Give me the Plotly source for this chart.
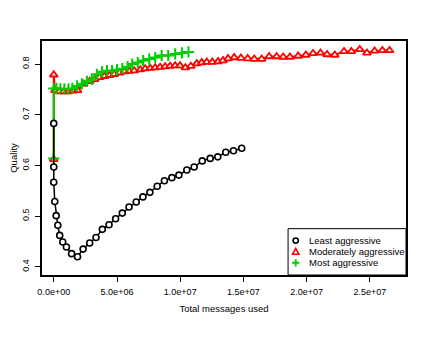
import plotly.graph_objects as go

# ---- data ----
least_x = [0, 0, 0, 0.08e6, 0.19e6, 0.32e6, 0.47e6, 0.71e6, 1.00e6, 1.41e6, 1.88e6,
           2.32e6, 2.84e6, 3.34e6, 3.84e6, 4.37e6, 4.89e6, 5.42e6, 5.95e6, 6.52e6,
           7.05e6, 7.60e6, 8.18e6, 8.75e6, 9.34e6, 9.89e6, 10.52e6, 11.10e6, 11.74e6,
           12.37e6, 12.97e6, 13.60e6, 14.21e6, 14.86e6]
least_y = [0.683, 0.597, 0.567, 0.529, 0.501, 0.482, 0.462, 0.449, 0.439, 0.426, 0.420,
           0.435, 0.447, 0.458, 0.474, 0.483, 0.495, 0.506, 0.518, 0.528,
           0.538, 0.547, 0.559, 0.570, 0.576, 0.581, 0.591, 0.597, 0.609,
           0.614, 0.617, 0.626, 0.629, 0.634]

mod_x = [0, 0, 0.09e6, 0.45e6, 0.80e6, 1.16e6, 1.51e6, 1.89e6, 2.37e6, 2.84e6, 3.23e6,
         3.63e6, 4.02e6, 4.42e6, 4.79e6, 5.21e6, 5.60e6, 5.97e6, 6.36e6, 6.84e6, 7.23e6,
         7.63e6, 8.02e6, 8.41e6, 8.81e6, 9.20e6, 9.60e6, 9.99e6, 10.41e6, 10.84e6,
         11.31e6, 11.70e6, 12.10e6, 12.54e6, 12.99e6, 13.38e6, 13.78e6, 14.27e6, 14.80e6,
         15.33e6, 15.85e6, 16.44e6, 17.03e6, 17.62e6, 18.14e6, 18.67e6, 19.32e6, 19.93e6,
         20.50e6, 21.09e6, 21.61e6, 22.22e6, 22.95e6, 23.53e6, 24.19e6, 24.76e6, 25.37e6,
         25.98e6, 26.55e6]
mod_y = [0.612, 0.779, 0.748, 0.746, 0.746, 0.746, 0.747, 0.748, 0.761, 0.766, 0.770,
         0.774, 0.776, 0.778, 0.780, 0.783, 0.785, 0.786, 0.787, 0.789, 0.791,
         0.792, 0.793, 0.794, 0.795, 0.796, 0.797, 0.797, 0.793, 0.796,
         0.801, 0.803, 0.804, 0.804, 0.805, 0.807, 0.811, 0.813, 0.812,
         0.811, 0.810, 0.810, 0.815, 0.815, 0.814, 0.814, 0.816, 0.818,
         0.821, 0.822, 0.819, 0.818, 0.825, 0.825, 0.829, 0.822, 0.826,
         0.827, 0.827]

most_x = [0, 0, 0.21e6, 0.53e6, 0.84e6, 1.16e6, 1.47e6, 1.85e6, 2.22e6, 2.62e6, 3.01e6,
          3.41e6, 3.82e6, 4.21e6, 4.61e6, 5.00e6, 5.42e6, 5.84e6, 6.21e6, 6.64e6, 7.07e6,
          7.55e6, 8.02e6, 8.53e6, 9.05e6, 9.60e6, 10.13e6, 10.65e6]
most_y = [0.614, 0.752, 0.752, 0.751, 0.751, 0.751, 0.752, 0.757, 0.761, 0.766, 0.770,
          0.780, 0.785, 0.787, 0.787, 0.789, 0.791, 0.795, 0.800, 0.803, 0.807,
          0.810, 0.813, 0.817, 0.817, 0.820, 0.822, 0.824]

series_names = ["Least aggressive", "Moderately aggressive", "Most aggressive"]
x_ticks = [0, 5e6, 1e7, 1.5e7, 2e7, 2.5e7]
x_tick_labels = ["0.0e+00", "5.0e+06", "1.0e+07", "1.5e+07", "2.0e+07", "2.5e+07"]
y_ticks = [0.4, 0.5, 0.6, 0.7, 0.8]
y_tick_labels = ["0.4", "0.5", "0.6", "0.7", "0.8"]

FONT = "Liberation Sans, Arial, Helvetica, sans-serif"
BLACK, RED, GREEN = "#000000", "#FF0000", "#00CD00"

fig = go.Figure()

# data traces (red, green drawn first; black on top)
fig.add_trace(go.Scatter(
    x=mod_x, y=mod_y, mode="lines+markers", name=series_names[1], showlegend=False,
    line=dict(color=RED, width=2),
    marker=dict(symbol="triangle-up", size=7, color="white",
                line=dict(color=RED, width=1.8))))
fig.add_trace(go.Scatter(
    x=most_x, y=most_y, mode="lines+markers", name=series_names[2], showlegend=False,
    line=dict(color=GREEN, width=2),
    marker=dict(symbol="cross-thin-open", size=8, color=GREEN,
                line=dict(color=GREEN, width=2))))
fig.add_trace(go.Scatter(
    x=least_x, y=least_y, mode="lines+markers", name=series_names[0], showlegend=False,
    line=dict(color=BLACK, width=1.5),
    marker=dict(symbol="circle", size=6, color="white",
                line=dict(color=BLACK, width=1.6))))

axis_common = dict(
    showgrid=False, zeroline=False, showline=True, mirror=True,
    linecolor="black", linewidth=1.5, ticks="outside", ticklen=5,
    tickcolor="black", tickwidth=1, tickfont=dict(family=FONT, size=9, color="black"),
)

# ---- legend box drawn in the bottom-right corner of the plot area ----
leg_left, leg_top = 0.676, 0.198
sym_x, text_x = 0.697, 0.727
row_y = [0.147, 0.099, 0.052]
shapes = [dict(type="rect", xref="x domain", yref="y domain",
               x0=leg_left, x1=1, y0=0, y1=leg_top,
               line=dict(color="black", width=1), fillcolor="white", layer="above")]
# circle key
shapes.append(dict(type="circle", xref="x domain", yref="y domain",
                   xsizemode="pixel", ysizemode="pixel",
                   xanchor=sym_x, yanchor=row_y[0], x0=-2.6, x1=2.6, y0=-2.6, y1=2.6,
                   line=dict(color=BLACK, width=1.6), fillcolor="white", layer="above"))
# triangle key
shapes.append(dict(type="path", xref="x domain", yref="y domain",
                   xsizemode="pixel", ysizemode="pixel",
                   xanchor=sym_x, yanchor=row_y[1],
                   path="M -3.2 -2.4 L 3.2 -2.4 L 0 3.4 Z",
                   line=dict(color=RED, width=1.6), fillcolor="white", layer="above"))
# plus key
shapes.append(dict(type="path", xref="x domain", yref="y domain",
                   xsizemode="pixel", ysizemode="pixel",
                   xanchor=sym_x, yanchor=row_y[2],
                   path="M -3.6 0 L 3.6 0 M 0 -3.6 L 0 3.6",
                   line=dict(color=GREEN, width=2), layer="above"))

annotations = [dict(xref="x domain", yref="y domain", x=text_x, y=ry, text=name,
                    showarrow=False, xanchor="left", yanchor="middle",
                    font=dict(family=FONT, size=9.5, color="black"))
               for name, ry in zip(series_names, row_y)]

fig.update_layout(
    width=440, height=338,
    margin=dict(l=33.5, r=41.5, t=32.5, b=70.5, autoexpand=False),
    paper_bgcolor="white", plot_bgcolor="white",
    font=dict(family=FONT, size=9, color="black"),
    xaxis=dict(range=[-0.93e6, 27.85e6], tickvals=x_ticks, ticktext=x_tick_labels,
               title=dict(text="Total messages used", font=dict(size=9.5), standoff=10),
               ticklabelstandoff=2, **axis_common),
    yaxis=dict(range=[0.3839, 0.8456], tickvals=y_ticks, ticktext=y_tick_labels,
               tickangle=-90, ticklabelstandoff=3,
               title=dict(text="Quality", font=dict(size=9.5), standoff=8),
               **axis_common),
    shapes=shapes,
    annotations=annotations,
    showlegend=False,
)

fig.write_html("out.html")
